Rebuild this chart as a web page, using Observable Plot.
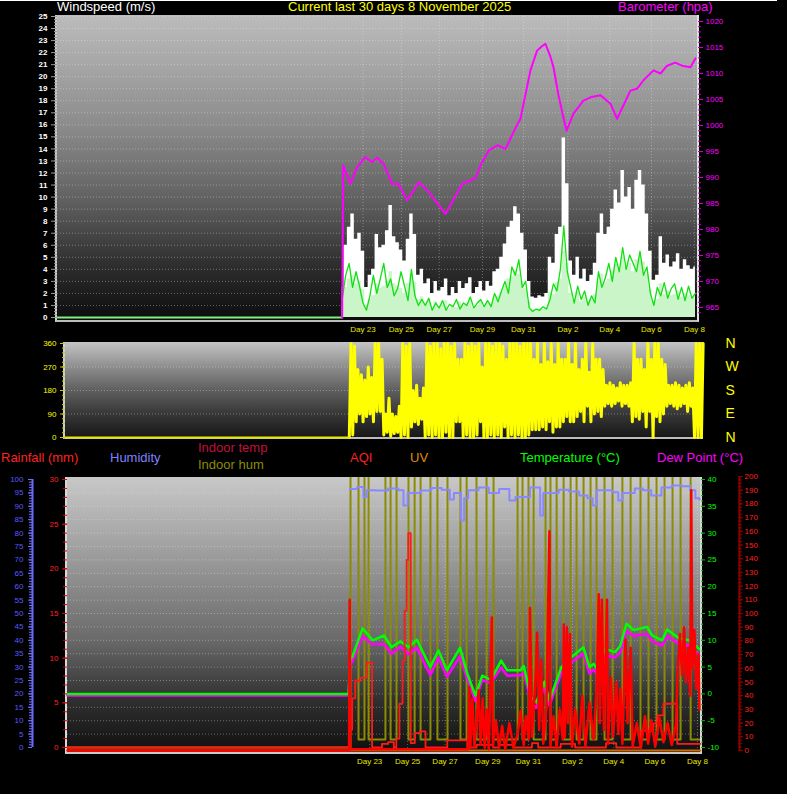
<!DOCTYPE html>
<html><head><meta charset="utf-8">
<script src="https://cdn.jsdelivr.net/npm/d3@7"></script>
<script src="https://cdn.jsdelivr.net/npm/@observablehq/plot@0.6"></script>
<style>
body{margin:0;background:#000;}
#wrap{position:relative;width:787px;height:794px;background:#000;overflow:hidden;font-family:"Liberation Sans",Arial,sans-serif;}
.bg{position:absolute;}
.lbl{position:absolute;white-space:nowrap;font-size:13px;line-height:13px;}
</style></head><body><div id="wrap"></div>
<script>
// ---------- data ----------
const dayTicks = [23.0, 24.85, 26.67, 28.75, 30.73, 32.87, 34.88, 36.88, 38.95];
const dayLabels = ["Day 23","Day 25","Day 27","Day 29","Day 31","Day 2","Day 4","Day 6","Day 8"];
const compassTicks = [360, 270, 180, 90, 0];
const compassLabels = ["N", "W", "S", "E", "N"];

// wind samples every 4 hours from day 22.0 (Oct 22) to day 39.0 (Nov 8)
const windStart = 22.0;
const windStepDays = 1 / 6;
const windGust = [
 2.5,6.0,7.5,8.6,6.5,7.0, 5.5,2.5,3.5,4.0,6.9,5.8, 6.0,7.2,9.3,6.7,6.2,5.6, 4.7,6.5,8.6,6.9,3.5,4.0,
 2.8,3.2,2.0,3.0,2.2,2.5, 3.2,1.8,2.5,2.0,3.0,2.4, 2.8,3.3,2.0,2.5,3.0,2.2, 3.0,2.6,3.8,4.0,5.0,6.1,
 7.5,8.0,9.2,8.6,7.0,5.6, 3.0,1.7,1.6,1.8,1.7,2.0, 5.0,4.5,6.9,7.5,14.9,11.1, 4.7,3.5,5.0,3.2,4.0,3.0,
 3.5,4.5,7.0,8.6,6.9,7.5, 9.0,10.6,9.5,12.2,10.0,10.8, 9.0,11.4,12.2,11.0,8.6,5.5, 3.1,3.5,6.7,4.5,5.2,4.2,
 4.6,5.3,4.0,4.8,4.3,4.0, 4.2];
const windAvg = [
 1.0,2.5,3.2,3.5,2.8,3.0, 2.3,1.0,1.5,1.8,2.8,2.4, 2.6,3.0,3.8,2.8,2.6,2.4, 2.0,2.8,3.6,2.9,1.5,1.7,
 1.2,1.4,0.8,1.3,0.9,1.0, 1.4,0.7,1.0,0.8,1.3,1.0, 1.2,1.4,0.8,1.0,1.3,0.9, 1.3,1.1,1.6,1.7,2.1,2.6,
 3.2,3.4,3.9,3.6,3.0,2.4, 1.3,0.7,0.6,0.7,0.7,0.8, 2.1,1.9,2.9,3.2,5.5,4.5, 2.0,1.5,2.1,1.3,1.7,1.3,
 1.5,1.9,3.0,3.6,2.9,3.2, 3.8,4.4,4.0,5.0,4.2,4.5, 3.8,4.8,5.0,4.6,3.6,2.3, 1.3,1.5,2.8,1.9,2.2,1.8,
 1.9,2.2,1.7,2.0,1.8,1.7, 1.8];
const windSpeed = [
 1.5,3.5,4.5,2.5,3.8,2.6, 1.2,0.6,1.8,3.5,2.0,3.2, 4.5,2.5,3.2,1.8,2.4,3.8, 2.6,1.4,4.0,1.8,1.0,1.5,
 1.0,1.6,0.6,1.2,0.8,1.4, 0.6,1.1,0.9,1.5,0.7,1.2, 1.0,1.7,0.8,1.2,1.5,0.9, 1.4,0.9,2.0,1.3,2.2,3.0,
 2.0,4.2,3.5,4.8,2.5,3.0, 0.8,0.5,0.7,0.6,0.9,0.7, 1.5,2.8,2.2,4.0,7.6,3.8, 2.5,1.2,2.6,1.5,2.2,1.0,
 1.8,1.2,3.8,2.5,3.3,4.5, 3.0,5.0,3.8,5.8,4.0,5.2, 4.5,3.8,5.5,3.5,4.2,2.0, 1.0,2.5,1.8,2.9,1.6,2.4,
 2.8,1.5,2.5,1.4,2.6,1.6, 2.0];
// wind direction range (degrees) within each 4-hour sample
const dirLow = [
 0,10,60,90,60,80, 90,60,100,100,10,20, 5,15,20,0,10,0, 40,60,50,70,0,10,
 0,10,0,0,20,0, 0,60,60,0,10,0, 0,10,60,0,0,10, 0,10,0,40,0,10,
 0,10,0,0,10,30, 30,30,40,30,60,20, 40,40,60,80,60,60, 80,100,60,120,60,90,
 100,80,120,130,120,130, 140,120,130,120,60,80, 70,100,40,100,0,80, 60,90,120,130,120,110,
 120,130,100,120,0,0, 0];
const dirHigh = [
 360,350,260,240,220,270, 230,360,360,300,90,150, 90,80,120,360,350,360, 180,200,150,190,360,350,
 360,360,340,360,360,350, 360,300,300,360,350,360, 350,360,270,360,360,350, 360,360,350,300,360,360,
 360,350,360,360,360,300, 360,280,360,290,360,280, 360,300,300,360,280,360, 260,300,360,250,360,300,
 300,260,200,210,200,190, 210,200,200,210,360,300, 300,260,360,300,360,360, 300,280,200,200,210,200,
 190,200,210,190,360,360, 360];
// before the station started reporting (flat zero lines)
const idleT = [8.3, 22.0];
const idleZero = [0, 0];

const baroT = [22.0,22.05,22.4,22.72,23.1,23.44,23.68,24.0,24.4,24.7,25.13,25.69,26.17,26.97,27.78,28.4,28.7,29.06,29.47,29.86,
 30.1,30.34,30.58,31.06,31.38,31.6,31.78,32.0,32.17,32.4,32.65,32.8,33.13,33.61,34.0,34.43,34.91,35.23,35.55,35.87,
 36.2,36.5,36.98,37.32,37.64,38.03,38.36,38.76,39.0];
const baroV = [963.1,992.3,988.8,992.0,993.9,993.0,993.8,992.6,988.8,988.8,985.6,989.1,987.2,983.0,988.8,989.8,992.7,995.2,996.2,995.5,
 997.5,999.5,1001.3,1010.6,1014.4,1015.2,1015.7,1013.5,1011.2,1006.0,1001.5,999.0,1002.3,1004.8,1005.5,1005.8,1004.2,1001.3,1004.0,1006.7,
 1007.1,1008.7,1010.6,1010.0,1011.5,1012.1,1011.5,1011.2,1012.9];

const tempT = [8.3,21.98,22.05,22.15,22.66,23.15,23.7,24.06,24.5,24.9,25.3,25.95,26.35,26.76,27.4,27.75,28.15,28.48,28.9,29.4,
 29.7,30.35,30.5,30.85,31.1,31.5,31.75,32.33,32.8,33.4,33.7,33.9,34.1,34.45,34.95,35.2,35.5,35.85,36.5,36.75,
 37.23,37.48,38.05,38.55,39.03];
const tempV = [0,0,6.5,6.85,12.2,10.0,10.9,8.7,9.8,8.7,10.1,5.0,8.1,4.4,8.6,3.8,-0.3,3.4,2.6,6.2,
 4.4,4.4,5.2,-0.6,-1.6,2.2,-1.2,5.0,6.8,8.7,5.0,5.6,4.4,8.4,7.8,9.0,13.1,11.9,12.5,10.9,
 10.0,12.0,10.4,10.0,8.4];
const dewV = [-0.3,-0.3,5.5,6.0,10.8,9.2,9.3,7.5,8.8,7.4,8.7,3.5,6.8,3.2,7.0,2.8,-1.3,2.6,2.0,4.9,
 3.4,3.5,4.0,-1.5,-2.6,1.2,-2.2,4.0,5.8,7.6,3.8,4.6,3.4,7.2,6.8,7.8,11.7,10.8,11.2,9.8,
 9.0,10.8,9.3,9.0,7.2];

const humT = [22.05,22.4,22.7,22.85,23.3,23.9,24.4,24.65,24.85,25.5,26.0,26.5,26.9,27.1,27.45,27.6,27.8,28.3,28.8,29.3,
 29.8,30.1,30.8,31.3,31.45,32.2,32.7,33.2,33.6,33.85,34.05,34.8,35.1,35.3,35.9,36.3,36.7,37.2,37.7,38.2,
 38.6,38.85,39.05];
const humV = [96.5,97.2,93.5,96.0,95.9,96.6,96.0,90.3,95.0,95.9,96.8,96.2,92.5,95.0,84.7,93.0,96.0,97.0,95.0,96.5,
 92.2,93.5,97.0,86.6,95.0,96.2,95.5,94.0,93.0,90.3,96.0,95.2,92.2,95.0,96.6,96.0,94.0,97.0,97.8,97.5,
 96.0,93.0,92.5];

const rainT = [8.3,22.05,22.15,22.3,22.55,22.85,23.12,23.6,23.9,24.18,24.3,24.45,24.6,24.7,24.8,24.88,25.0,25.2,25.45,25.72,
 26.78,27.75,28.2,29.0,29.3,30.0,30.9,31.2,32.3,33.0,34.5,35.0,36.2,36.8,37.0,37.3,37.97,39.1];
const rainV = [0,2.0,5.5,7.5,7.8,9.5,0,0.4,0.6,0,1.0,4.9,9.7,15.3,21.0,24.0,0.5,1.6,1.8,0,
 0.8,0,0.3,0,0.3,0,0.5,0,0.4,0,0.5,0,1.9,2.7,3.6,4.9,0.4,0.4];

const aqiT = [8.3,22.0,22.03,22.06,27.8,27.85,27.9,28.0,28.1,28.2,28.3,28.4,28.5,28.6,28.7,28.8,28.95,29.0,29.15,29.3,
 29.45,29.6,29.8,30.0,30.2,30.35,30.5,30.6,30.75,30.8,30.9,31.0,31.1,31.15,31.25,31.35,31.45,31.6,31.75,31.8,
 31.95,32.1,32.25,32.4,32.45,32.5,32.6,32.65,32.75,32.85,33.0,33.2,33.35,33.5,33.7,33.9,34.05,34.15,34.2,34.3,
 34.4,34.55,34.6,34.75,34.85,35.0,35.1,35.2,35.3,35.45,35.55,35.7,35.8,36.0,36.2,36.4,36.55,36.7,36.9,37.1,
 37.3,37.5,37.7,37.9,38.0,38.1,38.2,38.3,38.4,38.5,38.6,38.65,38.7,38.8,38.9,39.0,39.05];
const aqiV = [0,0,110,1,1,46,2,38,3,20,44,5,38,2,30,1,97,3,22,2,
 18,1,20,2,12,29,4,25,8,104,10,34,60,86,15,66,5,30,160,3,
 25,2,30,8,92,10,90,20,85,3,30,5,40,3,35,8,45,114,20,110,
 15,110,5,53,10,50,12,45,5,81,20,75,3,20,2,25,5,22,3,24,
 6,20,4,18,60,85,55,90,50,75,40,190,60,88,45,70,30];

const inHumT = [8.3,22.07,22.46,22.75,22.95,23.77,24.02,24.31,24.89,25.19,25.48,25.96,26.3,26.79,27.42,27.72,28.2,28.69,29.03,30.2,
 30.44,30.73,30.98,31.56,31.8,32.1,32.44,32.78,33.07,33.41,33.75,34.04,34.43,34.82,35.3,35.7,36.18,36.57,36.96,37.35,
 37.74,38.13,38.62,39.1];
const inHumV = [0,110,3,110,3,110,3,110,3,110,3,110,3,110,3,110,3,110,3,110,
 3,110,3,110,3,110,3,110,3,110,3,110,3,110,3,110,3,110,3,110,
 3,110,3,3];

const uvT = [8.3, 39.1];
const uvV = [0, 0];

// ---------- drawing ----------
const wrap = document.getElementById("wrap");
const FONT = '"Liberation Sans", Arial, sans-serif';
const X = [8.3, 39.1];
const rows = (ts, vs) => ts.map((t, i) => ({t, v: vs[i]}));
const windT = windGust.map((_, i) => windStart + i * windStepDays);
const windRows = windT.map((t, i) => ({t, gust: windGust[i], avg: windAvg[i], spd: windSpeed[i]}));
// direction drawn as a zigzag between the low and high reading of each sample
const dirRows = windT.flatMap((t, i) => [{t, v: dirLow[i]}, {t: t + windStepDays / 2, v: dirHigh[i]}]);
const blank = () => "";
const plain = d => String(d);

function box(css) { const d = document.createElement("div"); d.className = "bg"; d.style.cssText = css; wrap.appendChild(d); }
function label(text, left, top, color) { const d = document.createElement("div"); d.className = "lbl"; d.textContent = text; d.style.left = left + "px"; d.style.top = top + "px"; d.style.color = color; wrap.appendChild(d); }
function layer(frame, opts) {
  const svg = Plot.plot(Object.assign({width: 787, height: 794,
    style: `background:transparent;position:absolute;left:0;top:0;overflow:visible;font-family:${FONT};font-size:8px;max-width:none;`},
    frame, opts));
  wrap.appendChild(svg);
}

// panel backgrounds
box("left:0;top:0;width:777px;height:1px;background:#fff;");
box("left:57px;top:15px;width:640px;height:305px;background:linear-gradient(#bcbcbc 0%,#8c8c8c 36%,#606060 61%,#303030 81%,#0c0c0c 100%);border-left:2px solid #cfcfcf;border-right:2px solid #e0e0e0;border-bottom:2px solid #bdbdbd;margin-left:-2px;");
box("left:65px;top:342px;width:638px;height:95px;background:linear-gradient(#c4c4c4 0%,#909090 25%,#606060 50%,#383838 75%,#181818 100%);border-left:2px solid #cfcfcf;border-bottom:2px solid #bdbdbd;margin-left:-2px;");
box("left:67px;top:477px;width:633px;height:275px;background:linear-gradient(#c8c8c8 0%,#9a9a9a 30%,#6a6a6a 59%,#303030 81%,#101010 100%);border-left:2px solid #d8d8d8;border-right:2px solid #d8d8d8;border-bottom:2px solid #c8c8c8;margin-left:-2px;");

const P1 = {marginLeft: 57, marginRight: 90, marginTop: 16, marginBottom: 477};
const P2 = {marginLeft: 65, marginRight: 84, marginTop: 343, marginBottom: 357};
const P3 = {marginLeft: 67, marginRight: 87, marginTop: 477, marginBottom: 42};
const grid = {stroke: "#f0f0f0", strokeOpacity: 0.35, strokeDasharray: "1,2"};
const X1 = {domain: X, axis: null};
const X3 = {domain: X, range: [67, 700], axis: null};

// panel 1: wind speed
layer(P1, {
  x: X1, y: {domain: [0, 25], axis: null},
  marks: [
    Plot.gridY({ticks: d3.range(1, 26), ...grid}),
    Plot.gridX({ticks: dayTicks, ...grid}),
    Plot.areaY(windRows, {x: "t", y: "gust", fill: "#ffffff", curve: "step"}),
    Plot.areaY(windRows, {x: "t", y: "avg", fill: "#c9f5c9", curve: "step"}),
    Plot.line(rows(idleT, idleZero), {x: "t", y: "v", stroke: "#80f080", strokeWidth: 2}),
    Plot.line(windRows, {x: "t", y: "spd", stroke: "#10e010", strokeWidth: 1.3}),
    Plot.axisY({ticks: d3.range(0, 26), tickFormat: plain, tickSize: 6, tickPadding: 4, stroke: "#9a9a9a", fill: "#ffffff", fontWeight: "bold", fontSize: 8, label: null}),
    Plot.axisY({ticks: d3.range(0, 25, 0.25), tickFormat: blank, tickSize: 3, stroke: "#9a9a9a", label: null}),
    Plot.axisX({ticks: dayTicks, tickFormat: (d, i) => dayLabels[i], tickSize: 0, tickPadding: 9, fill: "#e8e800", fontSize: 8, label: null})
  ]
});
// panel 1: barometer
layer(P1, {
  x: X1, y: {domain: [963.08, 1020.96], axis: null},
  marks: [
    Plot.line(rows(baroT, baroV), {x: "t", y: "v", stroke: "#ff00ff", strokeWidth: 2}),
    Plot.axisY({anchor: "right", ticks: d3.range(965, 1021, 5), tickFormat: plain, tickSize: 5, tickPadding: 3, stroke: "#d000d0", fill: "#ff00ff", fontSize: 8, label: null}),
    Plot.axisY({anchor: "right", ticks: d3.range(964, 1021, 1), tickFormat: blank, tickSize: 3, stroke: "#c000c0", label: null})
  ]
});
// panel 2: wind direction
layer(P2, {
  x: X1, y: {domain: [0, 360], axis: null},
  marks: [
    Plot.gridY({ticks: [90, 180, 270], ...grid}),
    Plot.line(dirRows, {x: "t", y: "v", stroke: "#ffff00", strokeWidth: 3}),
    Plot.line(rows(idleT, idleZero), {x: "t", y: "v", stroke: "#e8e800", strokeWidth: 2}),
    Plot.axisY({ticks: [0, 90, 180, 270, 360], tickFormat: plain, tickSize: 5, tickPadding: 4, stroke: "#c8c800", fill: "#ffff00", fontSize: 8, label: null}),
    Plot.axisY({ticks: d3.range(0, 361, 18), tickFormat: blank, tickSize: 3, stroke: "#c8c800", label: null}),
    Plot.axisY({anchor: "right", ticks: compassTicks, tickFormat: (d, i) => compassLabels[i], tickSize: 0, tickPadding: 22, fill: "#ffff00", fontSize: 14, label: null})
  ]
});
// panel 3: humidity + indoor humidity
layer(P3, {
  x: X3, y: {domain: [0, 100], range: [747, 479], axis: null},
  marks: [
    Plot.gridY({ticks: d3.range(5, 100, 5), ...grid}),
    Plot.gridX({ticks: dayTicks, ...grid}),
    Plot.line(rows(inHumT, inHumV), {x: "t", y: "v", stroke: "#8c8c00", strokeWidth: 2, curve: "step-after", clip: true}),
    Plot.line(rows(humT, humV), {x: "t", y: "v", stroke: "#8888ff", strokeWidth: 2, curve: "step-after"}),
    Plot.ruleX([X[0]], {x: d => d, y1: 0, y2: 100, dx: -35, stroke: "#6a6aff", strokeWidth: 2}),
    Plot.axisY({ticks: d3.range(0, 101, 5), tickFormat: plain, tickSize: 4, tickPadding: 5, dx: -35, stroke: "#7070ff", fill: "#5a5aff", fontSize: 8, label: null}),
    Plot.axisY({ticks: d3.range(0, 101, 1), tickFormat: blank, tickSize: 3, dx: -35, stroke: "#7070ff", label: null})
  ]
});
// panel 3: temperature + dew point
layer(P3, {
  x: X3, y: {domain: [-10, 40], range: [747, 479], axis: null},
  marks: [
    Plot.line(rows(tempT, dewV), {x: "t", y: "v", stroke: "#ff00ff", strokeWidth: 2.5}),
    Plot.line(rows(tempT, tempV), {x: "t", y: "v", stroke: "#00ff00", strokeWidth: 2.5}),
    Plot.axisY({anchor: "right", ticks: d3.range(-10, 41, 5), tickFormat: plain, tickSize: 4, tickPadding: 3, stroke: "#00c000", fill: "#00ff00", fontSize: 8, label: null}),
    Plot.axisY({anchor: "right", ticks: d3.range(-10, 41, 1), tickFormat: blank, tickSize: 2, stroke: "#00c000", label: null})
  ]
});
// panel 3: rainfall
layer(P3, {
  x: X3, y: {domain: [0, 30], range: [747, 479], axis: null},
  marks: [
    Plot.line(rows(rainT, rainV), {x: "t", y: "v", stroke: "#ff1a1a", strokeWidth: 1.8, curve: "step-after"}),
    Plot.axisY({ticks: d3.range(0, 31, 5), tickFormat: plain, tickSize: 5, tickPadding: 4, stroke: "#e00000", fill: "#ff2020", fontSize: 8, label: null}),
    Plot.axisY({ticks: d3.range(0, 31, 1), tickFormat: blank, tickSize: 4, stroke: "#e00000", label: null}),
    Plot.axisX({ticks: dayTicks, tickFormat: (d, i) => dayLabels[i], tickSize: 0, tickPadding: 6, fill: "#e8e800", fontSize: 8, label: null})
  ]
});
// panel 3: AQI + UV
layer(P3, {
  x: X3, y: {domain: [0, 200], range: [750, 476], axis: null},
  marks: [
    Plot.line(rows(uvT, uvV), {x: "t", y: "v", stroke: "#d06a00", strokeWidth: 2}),
    Plot.line(rows(aqiT, aqiV), {x: "t", y: "v", stroke: "#ff0000", strokeWidth: 2.5}),
    Plot.ruleX([X[1]], {x: d => d, y1: 0, y2: 200, dx: 39, stroke: "#8b0000", strokeWidth: 2}),
    Plot.axisY({anchor: "right", dx: 39, ticks: d3.range(0, 201, 10), tickFormat: plain, tickSize: 3, tickPadding: 2, stroke: "#8b0000", fill: "#ff2020", fontSize: 8, label: null}),
    Plot.axisY({anchor: "right", dx: 37, ticks: d3.range(0, 201, 2.5), tickFormat: blank, tickSize: 4, stroke: "#8b0000", label: null})
  ]
});

// titles and legend texts
label("Windspeed (m/s)", 57, 0, "#ffffff");
label("Current last 30 days 8 November 2025", 288, 0, "#ffff00");
label("Barometer (hpa)", 618, 0, "#ff00ff");
label("Rainfall (mm)", 1, 451, "#ff2020");
label("Humidity", 110, 451, "#8080ff");
label("Indoor temp", 198, 441, "#c01040");
label("Indoor hum", 198, 458, "#8c8c00");
label("AQI", 350, 451, "#ff2020");
label("UV", 410, 451, "#e08a10");
label("Temperature (°C)", 520, 451, "#00ff00");
label("Dew Point (°C)", 657, 451, "#ff00ff");
</script></body></html>
